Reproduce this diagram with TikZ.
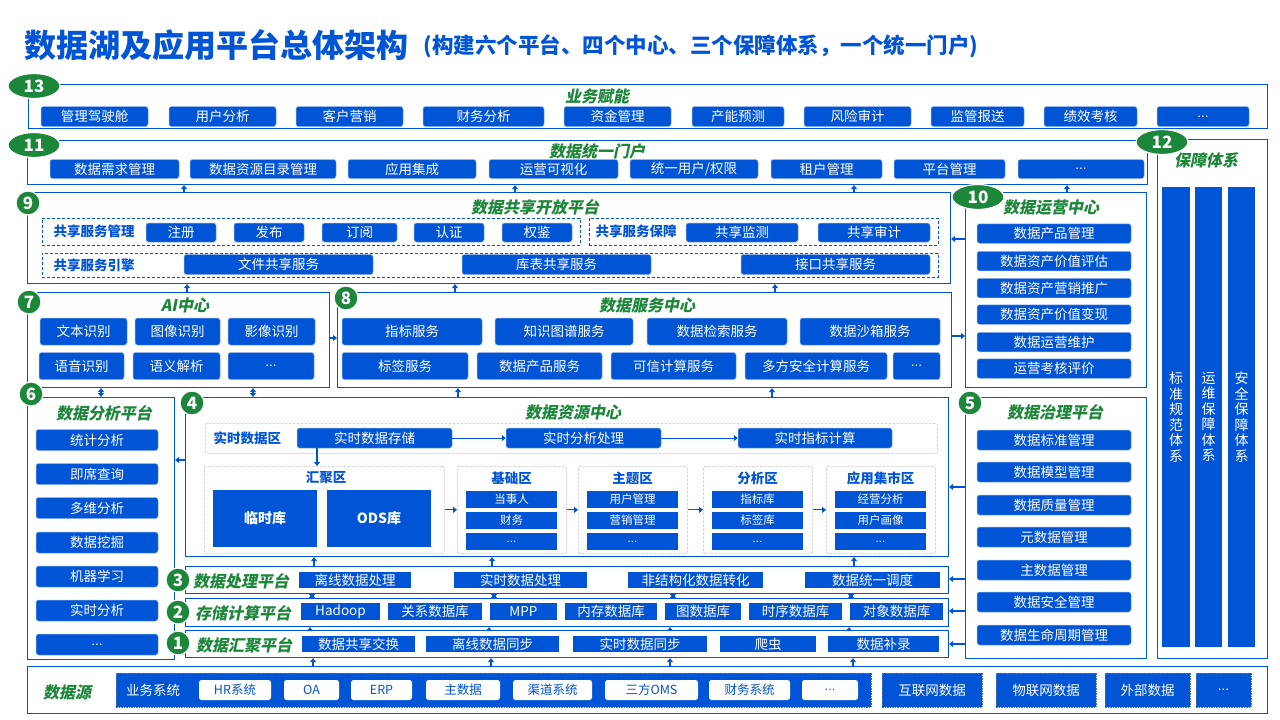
\documentclass[tikz,border=0pt]{standalone}
\usepackage{fontspec}
\setmainfont{Noto Sans CJK SC}
\newfontfamily\ttlfont[FakeSlant=0.2]{Noto Sans CJK SC}
\newfontfamily\dotfont{Liberation Sans}
\usetikzlibrary{arrows.meta,positioning,shapes.geometric}
\definecolor{bblue}{RGB}{0,84,214}
\definecolor{ggreen}{RGB}{28,134,58}
\definecolor{zgray}{RGB}{190,190,190}
\newcommand{\dts}{{\dotfont ...}}

\begin{document}
\begin{tikzpicture}[x=1pt, y=-1pt,
    blk/.style={
        rectangle, rounded corners=2.5pt, % shape
        inner sep=0pt, minimum height=20pt, % size
        fill=bblue, draw=bblue!45!white, line width=0.5pt, % the filling
        text=white, font=\fontsize{13.5}{15}\selectfont % font
      },
    sqb/.style={blk, rounded corners=0pt, draw=none},
    smb/.style={sqb, minimum height=17pt, font=\fontsize{11.5}{13}\selectfont},
    wbx/.style={blk, fill=white, draw=none, text=bblue, font=\fontsize{12.5}{14}\selectfont},
    frm/.style={rectangle, anchor=north west, inner sep=0pt, draw=bblue, line width=1.1pt},
    dsh/.style={frm, line width=0.9pt, dash pattern=on 3pt off 2pt},
    zone/.style={frm, draw=zgray, line width=0.7pt, dash pattern=on 2.5pt off 1.5pt, rounded corners=2pt},
    ovl/.style={ellipse, fill=ggreen, draw=white, line width=1.2pt, minimum width=52pt, minimum height=25pt,
        inner sep=0pt, text=white, font=\bfseries\fontsize{17}{17}\selectfont},
    crc/.style={ovl, circle, minimum size=24pt},
    ttl/.style={text=ggreen, font=\ttlfont\bfseries\fontsize{16}{18}\selectfont},
    lbl/.style={text=bblue, font=\bfseries\fontsize{13.5}{15}\selectfont},
    arr/.style={-{Triangle[length=4pt,width=6pt]}, draw=bblue, line width=1.6pt},
    darr/.style={arr, {Triangle[length=4pt,width=6pt]}-{Triangle[length=4pt,width=6pt]}}
  ]
  \fill[white] (0,0) rectangle (1280,720);
  \useasboundingbox (0,0) rectangle (1280,720);

  % title
  \node[anchor=west, inner sep=0pt, text=bblue, font=\bfseries\fontsize{32}{35}\selectfont] (title) at (24,45) {数据湖及应用平台总体架构};
  \node[right=15pt of title, inner sep=0pt, yshift=-1pt, text=bblue, font=\bfseries\fontsize{21.5}{24}\selectfont] (subtitle) {(构建六个平台、四个中心、三个保障体系，一个统一门户)};

  % 13 业务赋能
  \node[frm, minimum width=1239pt, minimum height=44pt] (f13) at (28,84) {};
  \node[ttl] (t13) at (597,96) {业务赋能};
  \foreach \xa/\xb/\t [count=\i] in {41/148/管理驾驶舱, 169/276/用户分析, 296/403/客户营销, 423/544/财务分析,
      564/671/资金管理, 692/784/产能预测, 804/911/风险审计, 931/1024/监管报送, 1044/1137/绩效考核, 1157/1249/\dts}
    \node[blk, minimum width={\xb-\xa}] (biz\i) at ({(\xa+\xb)/2},116.5) {\t};

  % 11 数据统一门户
  \node[frm, minimum width=1120pt, minimum height=44pt] (f11) at (27,140) {};
  \node[ttl] (t11) at (597,151) {数据统一门户};
  \foreach \xa/\xb/\t [count=\i] in {50/179/数据需求管理, 190/336/数据资源目录管理, 348/476/应用集成, 489/618/运营可视化,
      630/758/{统一用户/权限}, 771/882/租户管理, 894/1005/平台管理, 1018/1144/\dts}
    \node[blk, minimum width={\xb-\xa}, minimum height=19pt] (portal\i) at ({(\xa+\xb)/2},169) {\t};

  % 12 保障体系
  \node[frm, minimum width=110pt, minimum height=519pt] (f12) at (1157,139) {};
  \node[ttl] (t12) at (1206,160) {保障体系};
  \foreach \xa/\xb/\t [count=\i] in {1162/1190/{标\\准\\规\\范\\体\\系}, 1195/1222/{运\\维\\保\\障\\体\\系}, 1228/1255/{安\\全\\保\\障\\体\\系}}
    \node[sqb, minimum width={\xb-\xa}, minimum height=460pt, align=center, font=\fontsize{14}{15.5}\selectfont] (guard\i) at ({(\xa+\xb)/2},417) {\t};

  % 9 数据共享开放平台
  \node[frm, minimum width=923pt, minimum height=91pt] (f9) at (27,192) {};
  \node[ttl] (t9) at (535,207) {数据共享开放平台};
  \node[dsh, minimum width=538pt, minimum height=27pt] (mgt) at (42,218) {};
  \node[dsh, minimum width=349pt, minimum height=27pt] (grt) at (589,218) {};
  \node[dsh, minimum width=896pt, minimum height=24pt] (eng) at (42,253) {};
  \node[lbl, anchor=west] (lmgt) at (50,231.5) {共享服务管理};
  \node[lbl, anchor=west] (lgrt) at (592,231.5) {共享服务保障};
  \node[lbl, anchor=west] (leng) at (50,265) {共享服务引擎};
  \foreach \xa/\xb/\t [count=\i] in {146/216/注册, 234/304/发布, 322/397/订阅, 414/484/认证, 502/572/权鉴, 686/798/共享监测, 818/930/共享审计}
    \node[blk, minimum width={\xb-\xa}, minimum height=19pt] (share\i) at ({(\xa+\xb)/2},232.5) {\t};
  \foreach \xa/\xb/\t [count=\i] in {184/373/文件共享服务, 462/651/库表共享服务, 741/930/接口共享服务}
    \node[blk, minimum width={\xb-\xa}] (engine\i) at ({(\xa+\xb)/2},264.5) {\t};

  % 10 数据运营中心
  \node[frm, minimum width=181pt, minimum height=195pt] (f10) at (965,192) {};
  \node[ttl] (t10) at (1051,208) {数据运营中心};
  \foreach \y/\t [count=\i] in {233.5/数据产品管理, 261/数据资产价值评估, 288/数据资产营销推广, 314.5/数据资产价值变现, 342/数据运营维护, 368.5/运营考核评价}
    \node[blk, minimum width=154pt, minimum height=19.5pt] (ops\i) at (1054,\y) {\t};

  % 7 AI中心
  \node[frm, minimum width=302pt, minimum height=95pt] (f7) at (27,292) {};
  \node[ttl] (t7) at (185,305) {AI中心};
  \foreach \xa/\xb/\y/\t [count=\i] in {40/127/331.5/文本识别, 135/220/331.5/图像识别, 228/315/331.5/影像识别,
      39/124/366/语音识别, 133/220/366/语义解析, 228/314/366/\dts}
    \node[blk, minimum width={\xb-\xa}, minimum height=27pt] (ai\i) at ({(\xa+\xb)/2},\y) {\t};

  % 8 数据服务中心
  \node[frm, minimum width=614pt, minimum height=95pt] (f8) at (337,292) {};
  \node[ttl] (t8) at (647,305) {数据服务中心};
  \foreach \xa/\xb/\y/\t [count=\i] in {342/482/331.5/指标服务, 495/633/331.5/知识图谱服务, 647/787/331.5/数据检索服务, 800/940/331.5/数据沙箱服务,
      342/468/366/标签服务, 477/602/366/数据产品服务, 611/736/366/可信计算服务, 745/887/366/多方安全计算服务, 893/940/366/\dts}
    \node[blk, minimum width={\xb-\xa}, minimum height=27pt] (svc\i) at ({(\xa+\xb)/2},\y) {\t};

  % 6 数据分析平台
  \node[frm, minimum width=147pt, minimum height=262pt] (f6) at (27,397) {};
  \node[ttl] (t6) at (104,413) {数据分析平台};
  \foreach \y/\t [count=\i] in {440/统计分析, 474/即席查询, 508/多维分析, 542.5/数据挖掘, 576.5/机器学习, 610.5/实时分析, 644.5/\dts}
    \node[blk, minimum width=122pt, minimum height=21pt] (ana\i) at (97,\y) {\t};

  % 5 数据治理平台
  \node[frm, minimum width=181pt, minimum height=261pt] (f5) at (965,397) {};
  \node[ttl] (t5) at (1055,412) {数据治理平台};
  \foreach \y/\t [count=\i] in {440/数据标准管理, 472/数据模型管理, 505/数据质量管理, 537/元数据管理, 570/主数据管理, 602/数据安全管理, 635/数据生命周期管理}
    \node[blk, minimum width=154pt] (gov\i) at (1054,\y) {\t};

  % 4 数据资源中心
  \node[frm, minimum width=763pt, minimum height=159pt] (f4) at (185,397) {};
  \node[ttl] (t4) at (573,412) {数据资源中心};
  \node[zone, minimum width=732pt, minimum height=30pt] (zrt) at (205,423) {};
  \node[lbl, anchor=west] (lrt) at (210,438) {实时数据区};
  \foreach \xa/\xb/\t [count=\i] in {297/452/实时数据存储, 506/661/实时分析处理, 738/892/实时指标计算}
    \node[blk, minimum width={\xb-\xa}] (rt\i) at ({(\xa+\xb)/2},438) {\t};
  \node[zone, minimum width=240pt, minimum height=87pt] (z1) at (204,466) {};
  \node[lbl] (lz1) at (326,478) {汇聚区};
  \node[sqb, minimum width=104pt, minimum height=57pt, font=\bfseries\fontsize{14}{16}\selectfont] (tmp) at (265,518.5) {临时库};
  \node[sqb, minimum width=104pt, minimum height=57pt, font=\bfseries\fontsize{14}{16}\selectfont] (ods) at (379,518.5) {ODS库};
  \foreach \xa/\nm/\t/\ta [count=\i] in {457/基础区/当事人/财务, 578/主题区/用户管理/营销管理, 703/分析区/指标库/标签库, 826/应用集市区/经营分析/用户画像}{
    \node[zone, minimum width=109pt, minimum height=87pt] (zz\i) at (\xa,466) {};
    \node[lbl] (lzz\i) at (\xa+54.5,478) {\nm};
    \node[smb, minimum width=91pt] (zza\i) at (\xa+54.5,499.5) {\t};
    \node[smb, minimum width=91pt] (zzb\i) at (\xa+54.5,520.5) {\ta};
    \node[smb, minimum width=91pt] (zzc\i) at (\xa+54.5,541.5) {\dts};
  }

  % 3 2 1
  \node[frm, minimum width=763pt, minimum height=27pt] (f3) at (185,566) {};
  \node[frm, minimum width=763pt, minimum height=28pt] (f2) at (185,598) {};
  \node[frm, minimum width=763pt, minimum height=27pt] (f1) at (185,630) {};
  \node[ttl] (t3) at (241,581) {数据处理平台};
  \node[ttl] (t2) at (243,613) {存储计算平台};
  \node[ttl] (t1) at (244,645) {数据汇聚平台};
  \foreach \xa/\xb/\t [count=\i] in {299/411/离线数据处理, 454/587/实时数据处理, 628/763/非结构化数据转化, 805/940/数据统一调度}
    \node[sqb, minimum width={\xb-\xa}, minimum height=16pt] (proc\i) at ({(\xa+\xb)/2},580) {\t};
  \foreach \xa/\xb/\t [count=\i] in {301/380/Hadoop, 388/482/关系数据库, 490/557/MPP, 565/657/内存数据库, 665/741/图数据库, 749/842/时序数据库, 850/943/对象数据库}
    \node[sqb, minimum width={\xb-\xa}, minimum height=17pt] (store\i) at ({(\xa+\xb)/2},611.5) {\t};
  \foreach \xa/\xb/\t [count=\i] in {302/415/数据共享交换, 426/559/离线数据同步, 573/707/实时数据同步, 720/816/爬虫, 828/939/数据补录}
    \node[sqb, minimum width={\xb-\xa}, minimum height=16pt] (coll\i) at ({(\xa+\xb)/2},644) {\t};

  % 数据源
  \node[frm, minimum width=1240pt, minimum height=47pt] (fsrc) at (27,666) {};
  \node[ttl] (tsrc) at (67,692) {数据源};
  \node[frm, fill=bblue, draw=bblue!40!gray, line width=0.8pt, dash pattern=on 1.5pt off 1pt, minimum width=755pt, minimum height=34pt] (sys) at (116,673) {};
  \node[text=white, font=\fontsize{13.5}{15}\selectfont] (lsys) at (153,690) {业务系统};
  \foreach \xa/\xb/\t [count=\i] in {199/271/HR系统, 284/339/OA, 351/412/ERP, 426/500/主数据, 513/592/渠道系统, 605/698/三方OMS, 709/790/财务系统, 802/858/\dts}
    \node[wbx, minimum width={\xb-\xa}] (sys\i) at ({(\xa+\xb)/2},690) {\t};
  \foreach \xa/\xb/\t [count=\i] in {882/982/互联网数据, 996/1096/物联网数据, 1105/1190/外部数据, 1196/1251/\dts}
    \node[sqb, draw=bblue!40!gray, line width=0.8pt, dash pattern=on 1.5pt off 1pt, minimum width={\xb-\xa}, minimum height=34pt] (ext\i) at ({(\xa+\xb)/2},690) {\t};

  % badges
  \node[ovl] (b13) at (34,86) {13};
  \node[ovl] (b11) at (34,145) {11};
  \node[ovl] (b12) at (1162,142) {12};
  \node[ovl] (b10) at (978,197) {10};
  \foreach \x/\y/\n in {28/203/9, 29/302/7, 346/298/8, 31/394/6, 192/403/4, 970/403/5, 178/580/3, 178/612/2, 178/643/1}
    \node[crc] (b\n) at (\x,\y) {\n};

  % connectors
  \foreach \x in {184,515,854} \draw[arr] (f9.north -| \x,0) -- (f11.south -| \x,0);
  \draw[arr] (f10.north -| 1067,0) -- (f11.south -| 1067,0);
  \draw[arr] (f7.north -| 187,0) -- (f9.south -| 187,0);
  \foreach \x in {455,775} \draw[arr] (f8.north -| \x,0) -- (f9.south -| \x,0);
  \draw[arr] (f10.west |- 0,239) -- (f9.east |- 0,239);
  \draw[arr] (f7.east |- 0,338) -- (f8.west |- 0,338);
  \draw[arr] (f8.east |- 0,336) -- (f10.west |- 0,336);
  \draw[darr] (f6.north -| 101,0) -- (f7.south -| 101,0);
  \draw[darr] (f4.north -| 253,0) -- (f7.south -| 253,0);
  \foreach \x in {458,772} \draw[arr] (f4.north -| \x,0) -- (f8.south -| \x,0);
  \draw[arr] (f4.west |- 0,460) -- (f6.east |- 0,460);
  \draw[arr] (f5.west |- 0,487) -- (f4.east |- 0,487);
  \draw[arr] (f5.west |- 0,579) -- (f3.east |- 0,579);
  \draw[arr] (f5.west |- 0,611) -- (f2.east |- 0,611);
  \draw[arr] (f5.west |- 0,644) -- (f1.east |- 0,644);
  \foreach \x in {314,492,854} \draw[arr] (f3.north -| \x,0) -- (f4.south -| \x,0);
  \foreach \x in {312,494,673,851} \draw[darr] (f2.north -| \x,0) -- (f3.south -| \x,0);
  \foreach \x in {310,489,670,849} \draw[arr] (f1.north -| \x,0) -- (f2.south -| \x,0);
  \foreach \x in {313,491,670,853} \draw[arr] (fsrc.north -| \x,0) -- (f1.south -| \x,0);
  \draw[arr, line width=1pt] (rt1) -- (rt2);
  \draw[arr, line width=1pt] (rt2) -- (rt3);
  \draw[arr, line width=1.2pt] (rt1.south -| 317,0) -- (z1.north -| 317,0);
  \draw[arr, line width=1.2pt] (z1) -- (zz1);
  \foreach \i [evaluate=\i as \j using int(\i+1)] in {1,2,3} \draw[arr, line width=1.2pt] (zz\i) -- (zz\j);
\end{tikzpicture}
\end{document}
